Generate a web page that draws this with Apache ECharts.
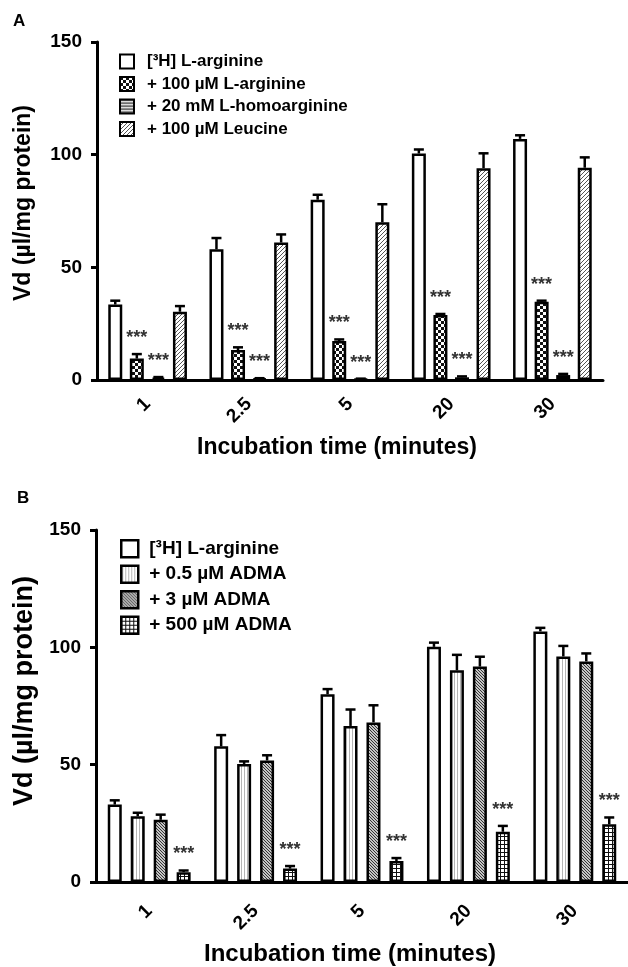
<!DOCTYPE html>
<html>
<head>
<meta charset="utf-8">
<script src="https://cdn.jsdelivr.net/npm/echarts@6/dist/echarts.min.js"></script>
<style>
  html, body { margin: 0; padding: 0; background: #fff; }
  #chart { width: 628px; height: 967px; }
</style>
</head>
<body>
<div id="chart"></div>
<script>
// incubation times (x categories)
var timeLabels = ['1', '2.5', '5', '20', '30'];

// panel A
var namesA = ['[³H] L-arginine', '+ 100 µM L-arginine', '+ 20 mM L-homoarginine', '+ 100 µM Leucine'];
var argA = [33.5, 58, 80, 100.5, 107];
var argAErr = [1.7, 5, 2.2, 1.8, 1.6];
var lArgA = [9.5, 13.3, 17.3, 28.8, 34.7];
var lArgAErr = [2, 1.2, 0.7, 0.5, 0.5];
var homoA = [1, 0.6, 0.4, 1.2, 2.2];
var homoAErr = [0.3, 0.2, 0.2, 0.4, 0.5];
var leuA = [30.3, 61, 70, 94, 94.2];
var leuAErr = [2.5, 3.6, 8, 6.6, 4.6];
var sigA = [false, true, true, false];

// panel B
var namesB = ['[³H] L-arginine', '+ 0.5 µM ADMA', '+ 3 µM ADMA', '+ 500 µM ADMA'];
var argB = [33, 57.8, 80, 100.2, 106.8];
var argBErr = [1.8, 4.8, 2.2, 1.8, 1.5];
var adma05 = [28, 50.3, 66.5, 90.2, 96.1];
var adma05Err = [1.5, 1.1, 7, 6.6, 4.5];
var adma3 = [26.5, 51.8, 68, 91.8, 94];
var adma3Err = [2.2, 2.2, 7.3, 4.2, 3.4];
var adma500 = [4.2, 5.7, 8.9, 21.4, 24.6];
var adma500Err = [0.7, 1.1, 1.3, 2.5, 2.9];
var sigB = [false, false, false, true];

var FONT = '"Liberation Sans", Arial, sans-serif';

function tile(w, h, draw) {
    var c = document.createElement('canvas');
    c.width = w; c.height = h;
    var ctx = c.getContext('2d');
    ctx.fillStyle = '#fff';
    ctx.fillRect(0, 0, w, h);
    draw(ctx);
    return { image: c, repeat: 'repeat' };
}

var patWhite = '#ffffff';
var patChecker = tile(6, 6, function (ctx) {
    ctx.fillStyle = '#111';
    ctx.fillRect(0, 0, 3, 3);
    ctx.fillRect(3, 3, 3, 3);
});
var patHoriz = tile(4, 3, function (ctx) {
    ctx.fillStyle = '#222';
    ctx.fillRect(0, 0, 4, 1.3);
});
var patLeu = tile(4, 4, function (ctx) {
    ctx.strokeStyle = '#555';
    ctx.lineWidth = 1;
    ctx.beginPath();
    ctx.moveTo(-1, 5); ctx.lineTo(5, -1);
    ctx.moveTo(-1, 1); ctx.lineTo(1, -1);
    ctx.moveTo(3, 5); ctx.lineTo(5, 3);
    ctx.stroke();
});
var patVert = tile(3, 4, function (ctx) {
    ctx.fillStyle = '#b5b5b5';
    ctx.fillRect(1, 0, 1, 4);
});
var patBack = tile(3, 3, function (ctx) {
    ctx.fillStyle = '#c4c4c4';
    ctx.fillRect(0, 0, 3, 3);
    ctx.strokeStyle = '#333';
    ctx.lineWidth = 1;
    ctx.beginPath();
    ctx.moveTo(-1, -1); ctx.lineTo(4, 4);
    ctx.moveTo(-1, 2); ctx.lineTo(1, 4);
    ctx.moveTo(2, -1); ctx.lineTo(4, 1);
    ctx.stroke();
});
var patGrid = tile(4, 4, function (ctx) {
    ctx.fillStyle = '#111';
    ctx.fillRect(0, 0, 4, 1);
    ctx.fillRect(0, 0, 1, 4);
});

var BAR_W = 14;

function barSeries(name, data, color, axis, gap) {
    return {
        name: name,
        type: 'bar',
        xAxisIndex: axis,
        yAxisIndex: axis,
        data: data,
        barWidth: BAR_W,
        barGap: gap,
        itemStyle: { color: color, borderColor: '#000', borderWidth: 2.5 },
        emphasis: { disabled: true }
    };
}

function errSeries(vals, errs, sig, slot, step, axis) {
    var rows = vals.map(function (v, i) { return [i, v, errs[i], sig ? 1 : 0]; });
    return {
        type: 'custom',
        xAxisIndex: axis,
        yAxisIndex: axis,
        data: rows,
        encode: { x: 0, y: 1 },
        z: 3,
        silent: true,
        renderItem: function (params, api) {
            var top = api.coord([api.value(0), api.value(1)]);
            var end = api.coord([api.value(0), api.value(1) + api.value(2)]);
            var x = top[0] + (slot - 1.5) * step;
            var kids = [
                { type: 'line', shape: { x1: x, y1: top[1], x2: x, y2: end[1] }, style: { stroke: '#000', lineWidth: 2.5 } },
                { type: 'line', shape: { x1: x - 5, y1: end[1], x2: x + 5, y2: end[1] }, style: { stroke: '#000', lineWidth: 2.5 } }
            ];
            if (api.value(3)) {
                kids.push({
                    type: 'text',
                    x: x,
                    y: end[1] - 7,
                    style: { text: '***', align: 'center', verticalAlign: 'bottom', font: 'bold 18px ' + FONT, fill: '#333' }
                });
            }
            return { type: 'group', children: kids };
        }
    };
}

var stepA = BAR_W * 1.54, stepB = BAR_W * 1.64;

function xAxis(grid, nameSize, nameGap, namePad, labelMargin) {
    return {
        type: 'category',
        gridIndex: grid,
        data: timeLabels,
        name: 'Incubation time (minutes)',
        nameLocation: 'middle',
        nameGap: nameGap,
        nameTextStyle: { fontFamily: FONT, fontWeight: 'bold', fontSize: nameSize, color: '#000', padding: namePad },
        axisLine: { lineStyle: { color: '#000', width: 3 } },
        axisTick: { alignWithLabel: true, length: 6, lineStyle: { color: '#000', width: 3 } },
        axisLabel: { rotate: 45, margin: labelMargin, fontFamily: FONT, fontWeight: 'bold', fontSize: 19, color: '#000' },
        splitLine: { show: false }
    };
}

function yAxis(grid, nameSize, nameGap, namePad) {
    return {
        type: 'value',
        gridIndex: grid,
        min: 0,
        max: 150,
        interval: 50,
        name: 'Vd (µl/mg protein)',
        nameLocation: 'middle',
        nameGap: nameGap,
        nameTextStyle: { fontFamily: FONT, fontWeight: 'bold', fontSize: nameSize, color: '#000', padding: namePad },
        axisLine: { show: true, lineStyle: { color: '#000', width: 3 } },
        axisTick: { show: true, length: 6, lineStyle: { color: '#000', width: 3 } },
        axisLabel: { margin: 15, fontFamily: FONT, fontWeight: 'bold', fontSize: 19, color: '#000' },
        splitLine: { show: false }
    };
}

var colorsA = [patWhite, patChecker, patHoriz, patLeu];
var colorsB = [patWhite, patVert, patBack, patGrid];
var valsA = [argA, lArgA, homoA, leuA], errsA = [argAErr, lArgAErr, homoAErr, leuAErr];
var valsB = [argB, adma05, adma3, adma500], errsB = [argBErr, adma05Err, adma3Err, adma500Err];

var series = [];
namesA.forEach(function (n, i) { series.push(barSeries(n, valsA[i], colorsA[i], 0, '54%')); });
namesB.forEach(function (n, i) { series.push(barSeries(n, valsB[i], colorsB[i], 1, '64%')); });
namesA.forEach(function (n, i) { series.push(errSeries(valsA[i], errsA[i], sigA[i], i, stepA, 0)); });
namesB.forEach(function (n, i) { series.push(errSeries(valsB[i], errsB[i], sigB[i], i, stepB, 1)); });

var chart = echarts.init(document.getElementById('chart'), null, { renderer: 'canvas' });
chart.setOption({
    animation: false,
    backgroundColor: '#fff',
    title: [
        { text: 'A', left: 13, top: 13, padding: 0, textStyle: { fontFamily: FONT, fontWeight: 'bold', fontSize: 17, color: '#000' } },
        { text: 'B', left: 17, top: 490, padding: 0, textStyle: { fontFamily: FONT, fontWeight: 'bold', fontSize: 17, color: '#000' } }
    ],
    legend: [
        {
            data: namesA,
            orient: 'vertical',
            left: 114,
            top: 48,
            icon: 'rect',
            itemWidth: 14,
            itemHeight: 14,
            itemGap: 5.5,
            selectedMode: false,
            itemStyle: { borderWidth: 2 },
            textStyle: { fontFamily: FONT, fontWeight: 'bold', fontSize: 17, color: '#000', padding: [0, 0, 0, 8] }
        },
        {
            data: namesB,
            orient: 'vertical',
            left: 115,
            top: 534,
            icon: 'rect',
            itemWidth: 17,
            itemHeight: 17,
            itemGap: 6,
            selectedMode: false,
            itemStyle: { borderWidth: 2.5 },
            textStyle: { fontFamily: FONT, fontWeight: 'bold', fontSize: 19, color: '#000', padding: [0, 0, 0, 6] }
        }
    ],
    grid: [
        { left: 97, top: 42, width: 506, height: 338 },
        { left: 96, top: 530, width: 532, height: 353 }
    ],
    xAxis: [xAxis(0, 23, 56, [0, 26, 0, 0], 21), xAxis(1, 24, 60, [0, 24, 0, 0], 26)],
    yAxis: [yAxis(0, 23, 62, [0, 0, 0, 16]), yAxis(1, 27, 57, [0, 0, 0, 30])],
    series: series
});
</script>
</body>
</html>
